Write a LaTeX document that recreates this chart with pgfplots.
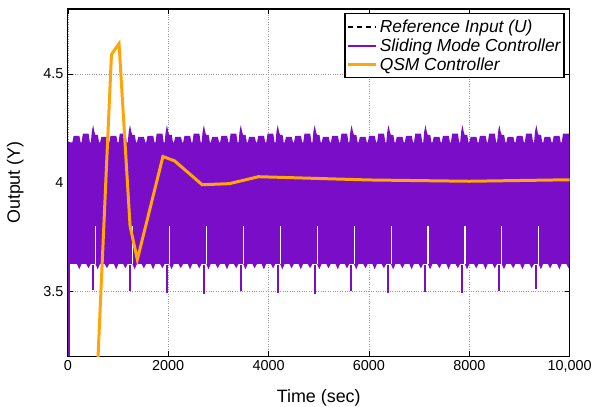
\documentclass[border=0pt]{standalone}
\usepackage{fontspec}
\setmainfont{Liberation Sans}
\usepackage{pgfplots}
\pgfplotsset{compat=1.18}
\definecolor{smc}{RGB}{122,14,200}
\definecolor{qsm}{RGB}{255,165,10}
\begin{document}
\begin{tikzpicture}
\begin{axis}[
  scale only axis, width=503bp, height=348bp,
  xmin=0, xmax=10000, ymin=3.2, ymax=4.8,
  scaled x ticks=false,
  xtick={0,2000,4000,6000,8000,10000},
  xticklabels={0,2000,4000,6000,8000,{10,000}},
  ytick={3.5,4,4.5},
  yticklabels={3.5,4,4.5},
  tick align=inside, major tick length=5bp,
  tick style={black, line width=0.6pt},
  axis line style={black, line width=1.2pt},
  grid=major, major grid style={dotted, gray!80, line width=0.6pt},
  ticklabel style={font=\fontsize{14.5}{16}\selectfont},
  xticklabel style={yshift=-1bp},
  yticklabel style={xshift=-1bp},
  xlabel={Time (sec)}, ylabel={Output (Y)},
  label style={font=\fontsize{18}{20}\selectfont},
  xlabel style={at={(axis description cs:0.5,-0.095)}, anchor=north, inner sep=0pt},
  ylabel style={at={(axis description cs:-0.088,0.5)}, anchor=south, inner sep=0pt},
  legend style={at={(rel axis cs:0.99,0.988)}, anchor=north east,
    font=\fontsize{17.5}{21}\selectfont\itshape, draw=black, line width=1.2pt,
    inner xsep=1.5pt, inner ysep=4pt, row sep=0.8pt, fill=white},
  legend cell align=left,
  legend image code/.code={\draw[#1] (0cm,0cm) -- (1.0cm,0cm);},
]
% Reference input (hidden under the response band)
\addplot[black, dash pattern=on 5bp off 4bp, line width=1.6pt] coordinates {(0,4) (10000,4)};
\addlegendentry{Reference Input (U)}

% Sliding mode controller: oscillation envelope (upper edge, then lower edge backwards)
\addplot[fill=smc, draw=none, forget plot] coordinates {
(30,3.625)(30,4.185)
(90,4.185)(115,4.215)(230,4.215)(255,4.185)
(274,4.185)(299,4.225)(414,4.225)(439,4.185)
(458,4.185)(478,4.235)(503,4.265)(528,4.235)(548,4.22)(598,4.22)(623,4.185)
(642,4.185)(667,4.21)(782,4.21)(807,4.185)
(826,4.185)(851,4.215)(966,4.215)(991,4.185)
(1010,4.185)(1035,4.225)(1150,4.225)(1175,4.185)
(1194,4.185)(1214,4.235)(1239,4.265)(1264,4.235)(1284,4.22)(1334,4.22)(1359,4.185)
(1378,4.185)(1403,4.21)(1518,4.21)(1543,4.185)
(1562,4.185)(1587,4.215)(1702,4.215)(1727,4.185)
(1746,4.185)(1771,4.225)(1886,4.225)(1911,4.185)
(1930,4.185)(1950,4.235)(1975,4.265)(2000,4.235)(2020,4.22)(2070,4.22)(2095,4.185)
(2114,4.185)(2139,4.21)(2254,4.21)(2279,4.185)
(2298,4.185)(2323,4.215)(2438,4.215)(2463,4.185)
(2482,4.185)(2507,4.225)(2622,4.225)(2647,4.185)
(2666,4.185)(2686,4.235)(2711,4.265)(2736,4.235)(2756,4.22)(2806,4.22)(2831,4.185)
(2850,4.185)(2875,4.21)(2990,4.21)(3015,4.185)
(3034,4.185)(3059,4.215)(3174,4.215)(3199,4.185)
(3218,4.185)(3243,4.225)(3358,4.225)(3383,4.185)
(3402,4.185)(3422,4.235)(3447,4.265)(3472,4.235)(3492,4.22)(3542,4.22)(3567,4.185)
(3586,4.185)(3611,4.21)(3726,4.21)(3751,4.185)
(3770,4.185)(3795,4.215)(3910,4.215)(3935,4.185)
(3954,4.185)(3979,4.225)(4094,4.225)(4119,4.185)
(4138,4.185)(4158,4.235)(4183,4.265)(4208,4.235)(4228,4.22)(4278,4.22)(4303,4.185)
(4322,4.185)(4347,4.21)(4462,4.21)(4487,4.185)
(4506,4.185)(4531,4.215)(4646,4.215)(4671,4.185)
(4690,4.185)(4715,4.225)(4830,4.225)(4855,4.185)
(4874,4.185)(4894,4.235)(4919,4.265)(4944,4.235)(4964,4.22)(5014,4.22)(5039,4.185)
(5058,4.185)(5083,4.21)(5198,4.21)(5223,4.185)
(5242,4.185)(5267,4.215)(5382,4.215)(5407,4.185)
(5426,4.185)(5451,4.225)(5566,4.225)(5591,4.185)
(5610,4.185)(5630,4.235)(5655,4.265)(5680,4.235)(5700,4.22)(5750,4.22)(5775,4.185)
(5794,4.185)(5819,4.21)(5934,4.21)(5959,4.185)
(5978,4.185)(6003,4.215)(6118,4.215)(6143,4.185)
(6162,4.185)(6187,4.225)(6302,4.225)(6327,4.185)
(6346,4.185)(6366,4.235)(6391,4.265)(6416,4.235)(6436,4.22)(6486,4.22)(6511,4.185)
(6530,4.185)(6555,4.21)(6670,4.21)(6695,4.185)
(6714,4.185)(6739,4.215)(6854,4.215)(6879,4.185)
(6898,4.185)(6923,4.225)(7038,4.225)(7063,4.185)
(7082,4.185)(7102,4.235)(7127,4.265)(7152,4.235)(7172,4.22)(7222,4.22)(7247,4.185)
(7266,4.185)(7291,4.21)(7406,4.21)(7431,4.185)
(7450,4.185)(7475,4.215)(7590,4.215)(7615,4.185)
(7634,4.185)(7659,4.225)(7774,4.225)(7799,4.185)
(7818,4.185)(7838,4.235)(7863,4.265)(7888,4.235)(7908,4.22)(7958,4.22)(7983,4.185)
(8002,4.185)(8027,4.21)(8142,4.21)(8167,4.185)
(8186,4.185)(8211,4.215)(8326,4.215)(8351,4.185)
(8370,4.185)(8395,4.225)(8510,4.225)(8535,4.185)
(8554,4.185)(8574,4.235)(8599,4.265)(8624,4.235)(8644,4.22)(8694,4.22)(8719,4.185)
(8738,4.185)(8763,4.21)(8878,4.21)(8903,4.185)
(8922,4.185)(8947,4.215)(9062,4.215)(9087,4.185)
(9106,4.185)(9131,4.225)(9246,4.225)(9271,4.185)
(9290,4.185)(9310,4.235)(9335,4.265)(9360,4.235)(9380,4.22)(9430,4.22)(9455,4.185)
(9474,4.185)(9499,4.21)(9614,4.21)(9639,4.185)
(9658,4.185)(9683,4.215)(9798,4.215)(9823,4.185)
(9842,4.185)(9867,4.225)(9982,4.225)(10000,4.19)
(10000,3.625)(9979,3.605)(9934,3.625)
(9840,3.625)(9795,3.60)(9750,3.625)
(9656,3.625)(9611,3.605)(9566,3.625)
(9472,3.625)(9427,3.60)(9382,3.625)
(9288,3.625)(9243,3.605)(9198,3.625)
(9104,3.625)(9059,3.60)(9014,3.625)
(8920,3.625)(8875,3.605)(8830,3.625)
(8736,3.625)(8691,3.60)(8646,3.625)
(8552,3.625)(8507,3.605)(8462,3.625)
(8368,3.625)(8323,3.60)(8278,3.625)
(8184,3.625)(8139,3.605)(8094,3.625)
(8000,3.625)(7955,3.60)(7910,3.625)
(7816,3.625)(7771,3.605)(7726,3.625)
(7632,3.625)(7587,3.60)(7542,3.625)
(7448,3.625)(7403,3.605)(7358,3.625)
(7264,3.625)(7219,3.60)(7174,3.625)
(7080,3.625)(7035,3.605)(6990,3.625)
(6896,3.625)(6851,3.60)(6806,3.625)
(6712,3.625)(6667,3.605)(6622,3.625)
(6528,3.625)(6483,3.60)(6438,3.625)
(6344,3.625)(6299,3.605)(6254,3.625)
(6160,3.625)(6115,3.60)(6070,3.625)
(5976,3.625)(5931,3.605)(5886,3.625)
(5792,3.625)(5747,3.60)(5702,3.625)
(5608,3.625)(5563,3.605)(5518,3.625)
(5424,3.625)(5379,3.60)(5334,3.625)
(5240,3.625)(5195,3.605)(5150,3.625)
(5056,3.625)(5011,3.60)(4966,3.625)
(4872,3.625)(4827,3.605)(4782,3.625)
(4688,3.625)(4643,3.60)(4598,3.625)
(4504,3.625)(4459,3.605)(4414,3.625)
(4320,3.625)(4275,3.60)(4230,3.625)
(4136,3.625)(4091,3.605)(4046,3.625)
(3952,3.625)(3907,3.60)(3862,3.625)
(3768,3.625)(3723,3.605)(3678,3.625)
(3584,3.625)(3539,3.60)(3494,3.625)
(3400,3.625)(3355,3.605)(3310,3.625)
(3216,3.625)(3171,3.60)(3126,3.625)
(3032,3.625)(2987,3.605)(2942,3.625)
(2848,3.625)(2803,3.60)(2758,3.625)
(2664,3.625)(2619,3.605)(2574,3.625)
(2480,3.625)(2435,3.60)(2390,3.625)
(2296,3.625)(2251,3.605)(2206,3.625)
(2112,3.625)(2067,3.60)(2022,3.625)
(1928,3.625)(1883,3.605)(1838,3.625)
(1744,3.625)(1699,3.60)(1654,3.625)
(1560,3.625)(1515,3.605)(1470,3.625)
(1376,3.625)(1331,3.60)(1286,3.625)
(1192,3.625)(1147,3.605)(1102,3.625)
(1008,3.625)(963,3.60)(918,3.625)
(824,3.625)(779,3.605)(734,3.625)
(640,3.625)(595,3.60)(550,3.625)
(456,3.625)(411,3.605)(366,3.625)
(272,3.625)(227,3.60)(182,3.625)
(30,3.625)
};

% Sliding mode controller: start transient and periodic downward spikes
\addplot[smc, line width=2pt, unbounded coords=jump] coordinates {
(15,3.2)(15,4.185)(15,nan)
(503,3.62)(503,3.505)(503,nan)
(1239,3.62)(1239,3.50)(1239,nan)
(1974,3.62)(1974,3.49)(1974,nan)
(2710,3.62)(2710,3.485)(2710,nan)
(3446,3.62)(3446,3.50)(3446,nan)
(4181,3.62)(4181,3.49)(4181,nan)
(4917,3.62)(4917,3.485)(4917,nan)
(5652,3.62)(5652,3.50)(5652,nan)
(6388,3.62)(6388,3.49)(6388,nan)
(7123,3.62)(7123,3.495)(7123,nan)
(7859,3.62)(7859,3.49)(7859,nan)
(8595,3.62)(8595,3.50)(8595,nan)
(9330,3.62)(9330,3.51)
};
\addlegendentry{Sliding Mode Controller}

% gaps in the oscillation next to each spike
\addplot[white, line width=1.1pt, unbounded coords=jump, forget plot] coordinates {
(558,3.625)(558,3.80)(558,nan)
(1294,3.625)(1294,3.80)(1294,nan)
(2029,3.625)(2029,3.80)(2029,nan)
(2765,3.625)(2765,3.80)(2765,nan)
(3501,3.625)(3501,3.80)(3501,nan)
(4236,3.625)(4236,3.80)(4236,nan)
(4972,3.625)(4972,3.80)(4972,nan)
(5707,3.625)(5707,3.80)(5707,nan)
(6443,3.625)(6443,3.80)(6443,nan)
(7178,3.625)(7178,3.80)(7178,nan)
(7914,3.625)(7914,3.80)(7914,nan)
(8650,3.625)(8650,3.80)(8650,nan)
(9385,3.625)(9385,3.80)
};

% QSM controller
\addplot[qsm, line width=3bp] coordinates {
(560,2.98) (869,4.59) (1020,4.64) (1240,3.80) (1385,3.645)
(1895,4.12) (2127,4.10) (2677,3.99) (3220,3.995) (3800,4.027)
(6000,4.012) (8000,4.006) (10000,4.013)
};
\addlegendentry{QSM Controller}
\end{axis}
\path ([xshift=-68bp,yshift=9bp]current axis.north west) rectangle ([xshift=24bp,yshift=-50bp]current axis.south east);
\end{tikzpicture}
\end{document}
